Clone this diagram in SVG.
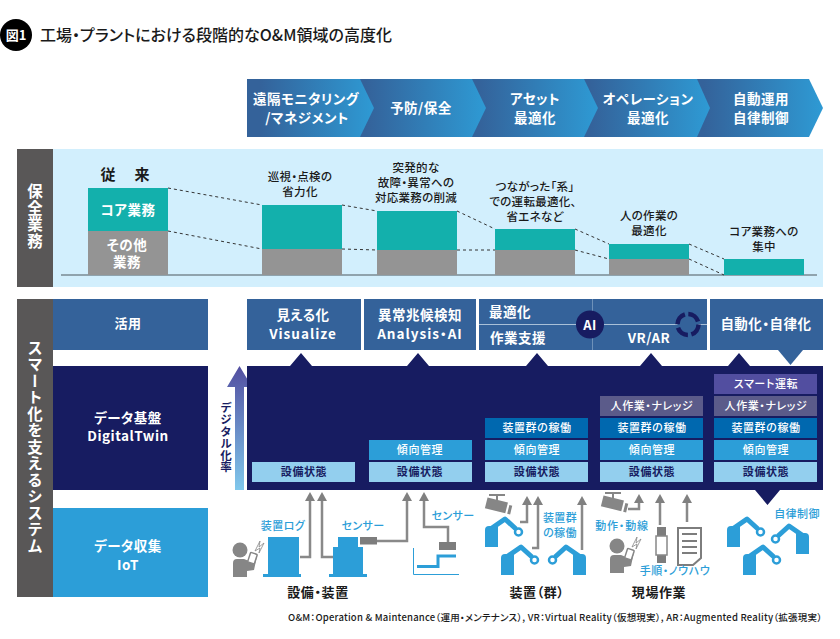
<svg xmlns="http://www.w3.org/2000/svg" width="840" height="639" viewBox="0 0 840 639">
<defs>
<style>
text{font-family:"Noto Sans CJK JP","Noto Sans",sans-serif;text-anchor:middle;font-feature-settings:"palt"}
.w{fill:#fff;font-weight:700;letter-spacing:.5px}
.k{fill:#1a1a1a;font-weight:500}
.a{font-size:11.5px;letter-spacing:.3px}
.kb{fill:#1a1a1a;font-weight:700;font-size:13px;letter-spacing:.6px}
.b{fill:#2c9ed8;font-weight:500;font-size:11px;letter-spacing:.4px}
.n{fill:#171c61;font-weight:700;font-size:11px;letter-spacing:.6px}
.c{fill:#fff;font-weight:500;font-size:11px;letter-spacing:.6px}
.v{writing-mode:vertical-rl;font-size:15.5px}
.teal{fill:#13b0ac}.gray{fill:#949494}
.d{stroke:#333;stroke-width:1;stroke-dasharray:3 3;fill:none}
.ar{fill:none;stroke:#898989;stroke-width:2.5}
.hd{fill:#808080}
.bl{fill:#2c9ed8}
.gy{fill:#868686}
.top{fill:#34629a}
</style>
<linearGradient id="chev"><stop offset="0.1" stop-color="#34629a"/><stop offset="1" stop-color="#2e9ad4"/></linearGradient>
<linearGradient id="up" x1="0" y1="0" x2="0" y2="1"><stop offset="0" stop-color="#524ea0"/><stop offset="1" stop-color="#80c8ec"/></linearGradient>
<path id="head" d="M0 0l5 9h-10z" class="hd"/>
<g id="robot">
<path class="bl" d="M0 0V-17Q0-21 4-21H13V0Z"/>
<path d="M7-19L20-28L31-18" fill="none" stroke="#2c9ed8" stroke-width="5" stroke-linejoin="round"/>
<circle cx="33.500" cy="-15" r="3.500" fill="#fff" stroke="#2c9ed8" stroke-width="2.500"/>
</g>
<g id="person">
<circle cx="0" cy="0" r="7.500" class="gy"/>
<path class="gy" d="M-7 27V13Q-7 9-3 9H4L9 11L12 4L17 6L14 20L7 21V27Z"/>
<rect x="9" y="3" width="7" height="10" rx="1" fill="#fff" stroke="#868686" stroke-width="1.500" transform="rotate(18 12 8)"/>
<path d="M15 1L20-9L19-3L24-7L19 3L20-2Z" fill="#fff" stroke="#868686" stroke-width="0.800"/>
</g>
<g id="cam">
<path class="gy" d="M-8 -11H8V-9H1V-5H-1V-9H-8Z"/>
<rect x="-11" y="-5" width="21" height="11" class="gy" transform="rotate(14)"/>
<rect x="12" y="-3" width="3" height="9" class="gy" transform="rotate(14)"/>
</g>
</defs>

<g id="title">
<circle cx="16" cy="35" r="16" fill="#000"/>
<text x="16" y="40" font-size="13" font-weight="700" fill="#fff">図1</text>
<text x="216" y="41" class="k" font-size="16" textLength="352">工場・プラントにおける段階的なO&amp;M領域の高度化</text>
</g>

<g id="phases">
<g id="p5"><path fill="url(#chev)" d="M690 79H809L823 108L809 137H690Z"/></g>
<g id="p4"><path fill="url(#chev)" d="M577 79H697L710 108L697 137H577Z"/></g>
<g id="p3"><path fill="url(#chev)" d="M465 79H584L598 108L584 137H465Z"/></g>
<g id="p2"><path fill="url(#chev)" d="M352 79H472L486 108L472 137H352Z"/></g>
<g id="p1"><path fill="url(#chev)" d="M247 79H360L374 108L360 137H247Z"/></g>
<g font-size="13.500">
<text class="w" x="306" y="104">遠隔モニタリング</text><text class="w" x="307" y="123">/マネジメント</text>
<text class="w" x="421" y="113">予防/保全</text>
<text class="w" x="535" y="104">アセット</text><text class="w" x="535" y="123">最適化</text>
<text class="w" x="648" y="104">オペレーション</text><text class="w" x="648" y="123">最適化</text>
<text class="w" x="761" y="104">自動運用</text><text class="w" x="761" y="123">自律制御</text>
</g>
</g>

<g id="maintenance">
<rect x="53" y="149" width="770" height="138" fill="#d2effd"/>
<rect x="17" y="149" width="36" height="138" fill="#595757"/>
<text class="w v" x="35" y="216.500" style="letter-spacing:1px">保全業務</text>
<rect x="61" y="274" width="756" height="2" fill="#8fa3ad"/>
</g>

<g id="connectors">
<path class="d" d="M168 188L262 205M168 231L262 249M342 205L377 211M342 249L377 250M457 211L495 229M457 250L495 250M575 229L609 244M575 250L609 259M689 244L724 259M689 259L724 275"/>
<g id="field-arrows">
<path class="ar" d="M300 557H310V500M322 500V557H333M377 541H407V500M448 542V527H424V500"/>
<path class="ar" d="M520 522H527V503M532 548H538V503M582 550V503"/>
<path class="ar" d="M628 509H639V502M660 525V502M687 522V502"/>
<use href="#head" x="310" y="492"/><use href="#head" x="322" y="492"/><use href="#head" x="407" y="492"/><use href="#head" x="424" y="492"/>
<use href="#head" x="527" y="496"/><use href="#head" x="538" y="496"/><use href="#head" x="582" y="496"/>
<use href="#head" x="639" y="494"/><use href="#head" x="660" y="494"/><use href="#head" x="687" y="494"/>
</g>
</g>

<g id="bar0"><rect x="88" y="188" width="80" height="43" class="teal"/><rect x="88" y="231" width="80" height="44" class="gray"/>
<text class="k" x="126" y="180" font-size="15" style="font-weight:700;letter-spacing:2px">従　来</text>
<text class="w" x="128" y="215" font-size="13.500">コア業務</text><text class="w" x="127" y="250" font-size="13.500">その他</text><text class="w" x="127" y="267" font-size="13.500">業務</text></g>
<g id="bar1"><rect x="262" y="205" width="80" height="44" class="teal"/><rect x="262" y="249" width="80" height="26" class="gray"/>
<g class="k"><text class="a" x="300" y="181">巡視・点検の</text><text class="a" x="300" y="196">省力化</text></g></g>
<g id="bar2"><rect x="377" y="211" width="80" height="39" class="teal"/><rect x="377" y="250" width="80" height="25" class="gray"/>
<g class="k"><text class="a" x="416" y="172">突発的な</text><text class="a" x="416" y="187">故障・異常への</text><text class="a" x="416" y="202">対応業務の削減</text></g></g>
<g id="bar3"><rect x="495" y="229" width="80" height="21" class="teal"/><rect x="495" y="250" width="80" height="25" class="gray"/>
<g class="k"><text class="a" x="535" y="191">つながった「系」</text><text class="a" x="533" y="206">での運転最適化、</text><text class="a" x="535" y="221">省エネなど</text></g></g>
<g id="bar4"><rect x="609" y="244" width="80" height="15" class="teal"/><rect x="609" y="259" width="80" height="16" class="gray"/>
<g class="k"><text class="a" x="649" y="220">人の作業の</text><text class="a" x="649" y="235">最適化</text></g></g>
<g id="bar5"><rect x="724" y="259" width="80" height="16" class="teal"/>
<g class="k"><text class="a" x="764" y="236">コア業務への</text><text class="a" x="764" y="251">集中</text></g></g>

<g id="system">
<rect x="17" y="299" width="36" height="298" fill="#595757"/>
<text class="w v" x="35" y="447.500" style="letter-spacing:1px">スマート化を支えるシステム</text>
</g>
<g id="use-row"><rect x="53" y="299" width="155" height="51" class="top"/><text class="w" x="128" y="328" font-size="13">活用</text></g>
<g id="data-row"><rect x="53" y="366" width="155" height="124" fill="#171c61"/><text class="w" x="128" y="423" font-size="13.500">データ基盤</text><text class="w" x="128" y="441" font-size="13.500">DigitalTwin</text></g>
<g id="iot-row"><rect x="53" y="508" width="155" height="89" fill="#2c9ed8"/><text class="w" x="128" y="551" font-size="13.500">データ収集</text><text class="w" x="128" y="570" font-size="13.500">IoT</text></g>

<g id="digital-arrow">
<path fill="url(#up)" d="M239.500 366L252 387H244V490H235V387H227Z"/>
<text class="n" x="226" y="437.500" style="writing-mode:vertical-rl;font-size:11.500px;letter-spacing:.4px">デジタル化率</text>
</g>

<g id="panel"><rect x="247" y="366" width="576" height="124" fill="#171c61"/>
<path fill="#171c61" d="M290 366L301 353L312 366ZM407 366L418 353L429 366ZM526 366L537 353L548 366ZM640 366L651 353L662 366ZM728 366L739 353L750 366ZM755 490H780L767.500 505Z"/>
</g>
<g id="use1"><rect x="247" y="299" width="114" height="51" class="top"/><text class="w" x="303" y="320" font-size="13.500">見える化</text><text class="w" x="303" y="339" font-size="13.500" style="letter-spacing:1px">Visualize</text></g>
<g id="use2"><rect x="364" y="299" width="112" height="51" class="top"/><text class="w" x="420" y="320" font-size="13.500">異常兆候検知</text><text class="w" x="420" y="339" font-size="13.500" style="letter-spacing:1px">Analysis・AI</text></g>
<g id="use3"><rect x="479" y="299" width="228" height="51" class="top"/>
<path d="M479 324.500H707" stroke="#a9c0d8" stroke-width="1"/><path d="M592.500 299V350" stroke="#a9c0d8" stroke-width="0.500"/>
<text class="w" x="510" y="317" font-size="13.500">最適化</text><text class="w" x="518" y="343" font-size="13.500">作業支援</text><text class="w" x="649" y="343" font-size="13.500">VR/AR</text>
<circle cx="590" cy="324.500" r="14" fill="#171c61"/><text class="w" x="590" y="329.500" font-size="13">AI</text>
<circle cx="688" cy="324.500" r="10.500" fill="#34629a" stroke="#171c61" stroke-width="4.500" stroke-dasharray="13 3.500"/>
</g>
<g id="use4"><rect x="710" y="299" width="113" height="51" class="top"/><path class="top" d="M778 350H803L790.500 365Z"/><text class="w" x="766" y="329" font-size="13.500">自動化・自律化</text></g>

<g id="cells">
<g fill="#93cfee"><rect x="252" y="462" width="103" height="20"/><rect x="369" y="462" width="103" height="20"/><rect x="485" y="462" width="103" height="20"/><rect x="600" y="462" width="103" height="20"/><rect x="714" y="462" width="103" height="20"/></g>
<g fill="#2c9ed8"><rect x="369" y="440" width="103" height="20"/><rect x="485" y="440" width="103" height="20"/><rect x="600" y="440" width="103" height="20"/><rect x="714" y="440" width="103" height="20"/></g>
<g fill="#0068af"><rect x="485" y="418" width="103" height="20"/><rect x="600" y="418" width="103" height="20"/><rect x="714" y="418" width="103" height="20"/></g>
<g fill="#5b5b8a"><rect x="600" y="396" width="103" height="20"/><rect x="714" y="396" width="103" height="20"/></g>
<rect x="714" y="374" width="103" height="20" fill="#524ea0"/>
<text class="n" x="304" y="476">設備状態</text><text class="n" x="420" y="476">設備状態</text><text class="n" x="537" y="476">設備状態</text><text class="n" x="652" y="476">設備状態</text><text class="n" x="766" y="476">設備状態</text>
<text class="c" x="420" y="454">傾向管理</text><text class="c" x="537" y="454">傾向管理</text><text class="c" x="652" y="454">傾向管理</text><text class="c" x="766" y="454">傾向管理</text>
<text class="c" x="537" y="432">装置群の稼働</text><text class="c" x="652" y="432">装置群の稼働</text><text class="c" x="766" y="432">装置群の稼働</text>
<text class="c" x="652" y="410">人作業・ナレッジ</text><text class="c" x="766" y="410">人作業・ナレッジ</text>
<text class="c" x="766" y="388">スマート運転</text>
</g>

<g id="equipment">
<use href="#person" x="240" y="550"/>
<path class="bl" d="M268 537H299V574H301V577H263V574H268Z"/>
<path class="bl" d="M338 537H358V547H363V574H367V577H329V574H333V547H338Z"/>
<rect x="360" y="537" width="17" height="7.500" fill="#7d7d7d"/>
<rect x="439" y="542" width="17" height="8" fill="#7d7d7d"/>
<path d="M413.500 548V574.500H459" fill="none" stroke="#2c9ed8" stroke-width="1"/>
<path d="M417 566.500H438V556H456" fill="none" stroke="#2c9ed8" stroke-width="3"/>
<text class="b" x="283" y="530">装置ログ</text><text class="b" x="363" y="530">センサー</text><text class="b" x="453" y="520">センサー</text>
<text class="kb" x="318" y="597">設備・装置</text>
</g>
<g id="devices">
<use href="#robot" x="485" y="547"/><use href="#robot" x="501" y="575"/><use href="#robot" transform="translate(586 575) scale(-1 1)"/>
<use href="#cam" x="497" y="505"/>
<text class="b" x="560" y="522">装置群</text><text class="b" x="560" y="536.500">の稼働</text>
<text class="kb" x="537" y="597">装置（群）</text>
</g>
<g id="field">
<use href="#cam" x="613" y="503"/>
<use href="#person" x="617" y="546"/>
<rect x="657" y="527" width="9" height="9" fill="#7d7d7d"/><rect x="657" y="555" width="9" height="8" fill="#7d7d7d"/><rect x="656" y="536" width="11" height="19" fill="#fff" stroke="#888" stroke-width="1.500"/>
<path d="M678 528H701V558L693 565H678Z" fill="#fff" stroke="#7d7d7d" stroke-width="2"/>
<path d="M682 534H697M682 541H697M682 547H697M682 553H697" stroke="#7d7d7d" stroke-width="2"/>
<text class="b" x="622" y="530" style="letter-spacing:.8px">動作・動線</text><text class="b" x="675" y="575" style="letter-spacing:.6px">手順・ノウハウ</text>
<text class="kb" x="659" y="597">現場作業</text>
</g>
<g id="autonomy">
<use href="#robot" x="727" y="547"/><use href="#robot" transform="translate(809 554) scale(-1 1)"/><use href="#robot" x="743" y="575"/>
<text class="b" x="797" y="518">自律制御</text>
</g>
<text id="footnote" x="555" y="621" font-size="9.500" textLength="534" fill="#1a1a1a" style="font-weight:500">O&amp;M：Operation &amp; Maintenance（運用・メンテナンス）, VR：Virtual Reality（仮想現実）, AR：Augmented Reality（拡張現実）</text>
</svg>
